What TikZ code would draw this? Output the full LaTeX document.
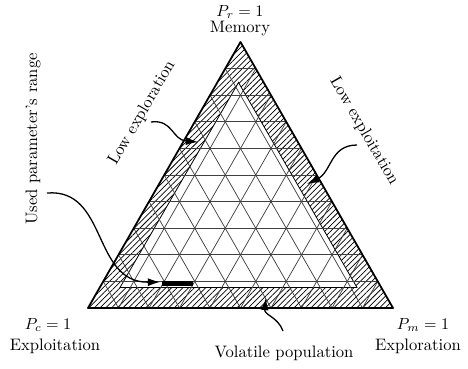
\documentclass[tikz,border=0pt]{standalone}
\usetikzlibrary{patterns.meta,calc,arrows.meta}
\begin{document}
\begin{tikzpicture}[x=0.62pt,y=-0.62pt,
  gridline/.style={black!75,line width=0.45pt},
  edge/.style={black,line width=1.1pt,line join=round},
  pointer/.style={black,line width=0.8pt,-{Latex[length=7.5pt,width=5pt]}},
  lbl/.style={inner sep=0pt,font=\fontsize{10.3}{12}\selectfont}]
\useasboundingbox (0,0) rectangle (468,368);
\coordinate (A) at (88,308);
\coordinate (B) at (393,308);
\coordinate (C) at (240.5,42);
\coordinate (IA) at (120,287.5);
\coordinate (IB) at (357,287.5);
\coordinate (IC) at (238.5,82.5);
% hatched band
\fill[pattern={Lines[angle=45,distance=2.5pt,line width=0.45pt]}] (A) -- (B) -- (C) -- cycle;
\filldraw[fill=white,draw=black,line width=0.5pt] (IA) -- (IB) -- (IC) -- cycle;
% grid
\foreach \k in {1,...,9}{
  \draw[gridline] ($(A)!\k/10!(C)$) -- ($(B)!\k/10!(C)$);
  \draw[gridline] ($(A)!\k/10!(B)$) -- ($(C)!\k/10!(B)$);
  \draw[gridline] ($(B)!\k/10!(A)$) -- ($(C)!\k/10!(A)$);
}
\draw[edge] (A) -- (B) -- (C) -- cycle;
% used parameter range bar
\coordinate (R1) at (162,283.5);
\coordinate (R2) at (193,283.5);
\draw[line width=3.2pt] (R1) -- (R2);
% labels
\node[lbl] (pr) at (240,12) {$P_r = 1$};
\node[lbl] (mem) at (240,29) {Memory};
\node[lbl] (pc) at (48,325) {$P_c = 1$};
\node[lbl] (expl) at (55,346) {Exploitation};
\node[lbl] (pm) at (423,325) {$P_m = 1$};
\node[lbl] (explr) at (418,346) {Exploration};
\node[lbl] (vol) at (284,353) {Volatile population};
\node[lbl,rotate=60] (lowr) at (142,113) {Low exploration};
\node[lbl,rotate=-60] (lowt) at (364,131) {Low exploitation};
\node[lbl,rotate=90] (used) at (33,139) {Used parameter's range};
% arrows
\coordinate (u0) at (47,193);
\coordinate (u1) at (160,282);
\draw[pointer] (u0) .. controls (108,188) and (92,283) .. (u1);
\coordinate (e0) at (151,122);
\coordinate (e1) at (198,142);
\draw[pointer] (e0) .. controls (173,119) and (172,140) .. (e1);
\coordinate (t0) at (357,145);
\coordinate (t1) at (307,184);
\draw[pointer] (t0) .. controls (330,145) and (332,172) .. (t1);
\coordinate (v0) at (283,331);
\coordinate (v1) at (266,298);
\draw[pointer] (v0) .. controls (278,317) and (264,315) .. (v1);
\end{tikzpicture}
\end{document}
